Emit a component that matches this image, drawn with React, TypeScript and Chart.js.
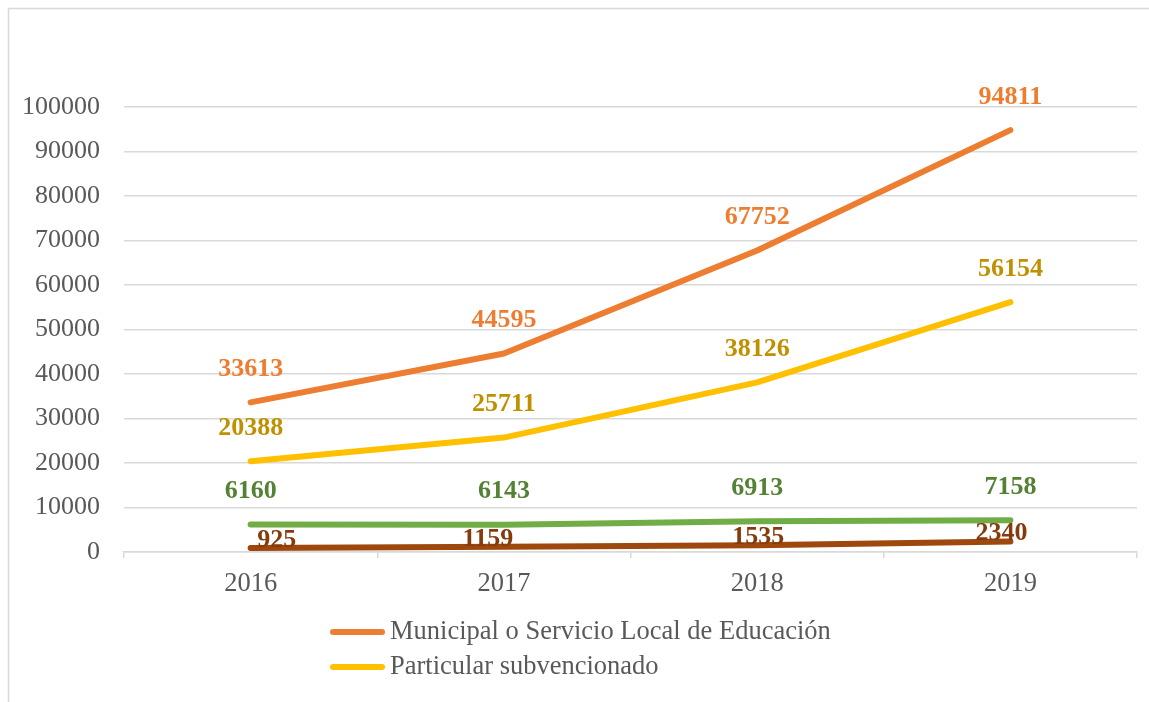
import React, { useEffect, useRef } from "react";
import { Chart, registerables } from "chart.js";

Chart.register(...registerables);

const categories = ["2016", "2017", "2018", "2019"];
const seriesNames = [
  "Municipal o Servicio Local de Educación",
  "Particular subvencionado",
  "Particular pagado",
  "Administración delegada",
];
const municipal = [33613, 44595, 67752, 94811];
const subvencionado = [20388, 25711, 38126, 56154];
const pagado = [6160, 6143, 6913, 7158];
const delegada = [925, 1159, 1535, 2340];
const yTicks = { min: 0, max: 100000, step: 10000 };

const lineColors = ["#ED7D31", "#FFC000", "#70AD47", "#9E480E"];
const labelColors = ["#ED7D31", "#BF9000", "#548235", "#843C0C"];
// label offsets (pixels) per series: [dx per point], dy
const labelOffsets = [
  { dx: [0, 0, 0, 0], dy: -33 },
  { dx: [0, 0, 0, 0], dy: -33 },
  { dx: [0, 0, 0, 0], dy: -33 },
  { dx: [26, -16, 1, -9], dy: -8 },
];

const FONT = "'Liberation Serif', 'Times New Roman', serif";

const framePlugin = {
  id: "frame",
  beforeDraw(chart: any) {
    const ctx = chart.ctx;
    ctx.save();
    ctx.fillStyle = "#ffffff";
    ctx.fillRect(0, 0, chart.width, chart.height);
    ctx.strokeStyle = "#d9d9d9";
    ctx.lineWidth = 1.5;
    ctx.beginPath();
    ctx.moveTo(8.5, chart.height);
    ctx.lineTo(8.5, 8.5);
    ctx.lineTo(chart.width, 8.5);
    ctx.stroke();
    ctx.restore();
  },
};

const labelsPlugin = {
  id: "valueLabels",
  afterDatasetsDraw(chart: any) {
    const ctx = chart.ctx;
    ctx.save();
    ctx.font = `bold 26px ${FONT}`;
    ctx.textAlign = "center";
    ctx.textBaseline = "middle";
    chart.data.datasets.forEach((ds: any, i: number) => {
      const meta = chart.getDatasetMeta(i);
      ctx.fillStyle = labelColors[i];
      meta.data.forEach((pt: any, j: number) => {
        const off = labelOffsets[i];
        ctx.fillText(String(ds.data[j]), pt.x + off.dx[j], pt.y + off.dy);
      });
    });
    ctx.restore();
  },
};

const legendPlugin = {
  id: "customLegend",
  afterDraw(chart: any) {
    const ctx = chart.ctx;
    const rows = [0, 1];
    ctx.save();
    ctx.textBaseline = "middle";
    ctx.textAlign = "left";
    rows.forEach((i, r) => {
      const y = 632 + r * 35;
      ctx.strokeStyle = lineColors[i];
      ctx.lineWidth = 6;
      ctx.lineCap = "round";
      ctx.beginPath();
      ctx.moveTo(333, y);
      ctx.lineTo(382, y);
      ctx.stroke();
      ctx.fillStyle = "#595959";
      ctx.font = `26.5px ${FONT}`;
      ctx.fillText(seriesNames[i], 390, y);
    });
    ctx.restore();
  },
};

export default function App() {
  const ref = useRef<HTMLCanvasElement | null>(null);
  useEffect(() => {
    if (!ref.current) return;
    const all = [municipal, subvencionado, pagado, delegada];
    const chart = new Chart(ref.current, {
      type: "line",
      data: {
        labels: categories,
        datasets: all.map((d, i) => ({
          label: seriesNames[i],
          data: d,
          borderColor: lineColors[i],
          backgroundColor: lineColors[i],
          borderWidth: 6,
          borderCapStyle: "round",
          borderJoinStyle: "round",
          pointRadius: 0,
          tension: 0,
        })),
      },
      options: {
        responsive: false,
        animation: false,
        layout: { padding: { top: 107, right: 12, left: 0, bottom: 0 } },
        plugins: { legend: { display: false }, tooltip: { enabled: false } },
        scales: {
          x: {
            offset: true,
            grid: {
              offset: true,
              drawOnChartArea: false,
              drawTicks: true,
              tickLength: 6,
              color: "#d9d9d9",
              lineWidth: 1.5,
            },
            border: { color: "#d9d9d9", width: 1.5 },
            ticks: {
              color: "#595959",
              font: { family: FONT, size: 26.5 },
              padding: 10,
            },
            afterFit: (s: any) => {
              s.height = 150;
            },
          },
          y: {
            min: yTicks.min,
            max: yTicks.max,
            ticks: {
              stepSize: yTicks.step,
              color: "#595959",
              font: { family: FONT, size: 26 },
              padding: 24,
              callback: (v: any) => String(v),
            },
            grid: { drawTicks: false, color: "#d9d9d9", lineWidth: 1.5 },
            border: { display: false },
            afterFit: (s: any) => {
              s.width = 124;
            },
          },
        },
      },
      plugins: [framePlugin, labelsPlugin, legendPlugin],
    } as any);
    return () => chart.destroy();
  }, []);
  return (
    <div style={{ position: "fixed", left: 0, top: 0, width: 1149, height: 702, overflow: "hidden", background: "#fff" }}>
      <canvas ref={ref} width={1149} height={702} style={{ display: "block" }} />
    </div>
  );
}
